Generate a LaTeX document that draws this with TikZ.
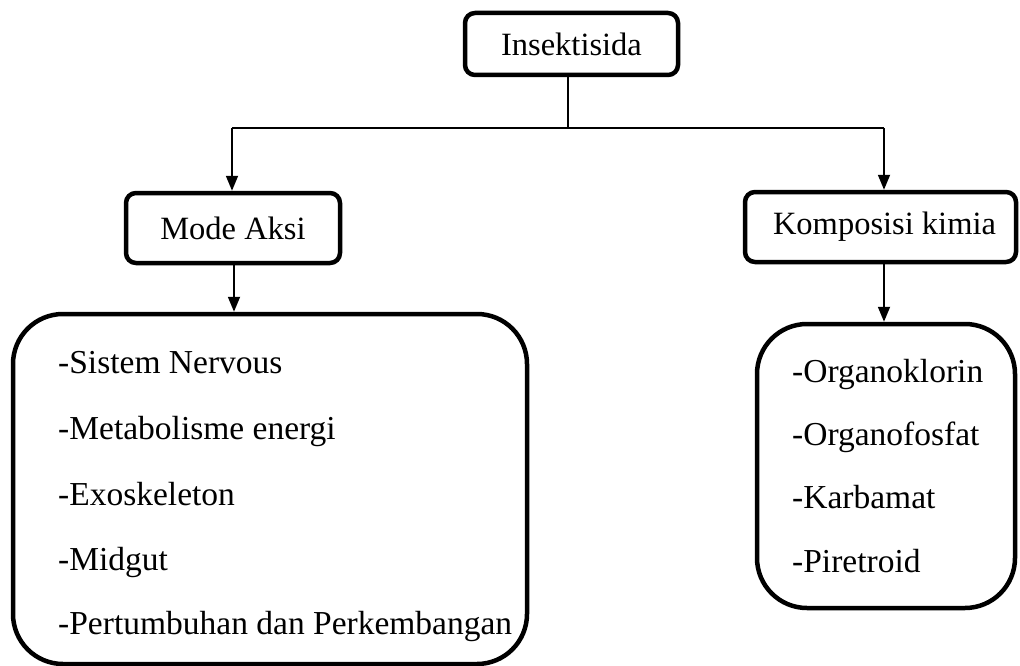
\documentclass[tikz,border=0pt]{standalone}
\usepackage{fontspec}
\setmainfont{Liberation Serif}
\usetikzlibrary{arrows.meta}
\begin{document}
\begin{tikzpicture}[x=1pt,y=-1pt,
  box/.style={draw, line width=4.5pt, rounded corners=10pt, inner sep=0pt, font=\fontsize{32.5}{38}\selectfont},
  bigbox/.style={draw, line width=4.5pt, rounded corners=50pt, inner sep=0pt},
  item/.style={anchor=base west, inner sep=0pt, font=\fontsize{33.5}{40}\selectfont},
  conn/.style={line width=1.8pt},
  arr/.style={line width=1.8pt, -{Triangle[length=15pt,width=12pt]}}]
\useasboundingbox (0,0) rectangle (1020,666);
\node[box, minimum width=213pt, minimum height=62pt] (ins) at (571.5,44) {Insektisida};
\node[box, minimum width=214pt, minimum height=70pt] (mode) at (233,228) {Mode Aksi};
\node[box, minimum width=271pt, minimum height=70pt] (komp) at (880.5,227) {\hspace*{8pt}Komposisi kimia};
\node[bigbox, minimum width=514pt, minimum height=350pt] (left) at (270,489) {};
\node[bigbox, minimum width=258pt, minimum height=284pt] (right) at (886,466) {};
\coordinate (jl) at (232,128);
\coordinate (jr) at (884,128);
\coordinate (jm) at (568,128);
\coordinate (ml) at (234,263);
\coordinate (kr) at (884,262);
\draw[conn] (jm |- ins.south) -- (jm);
\draw[conn] (jl) -- (jr);
\draw[arr] (jl) -- (jl |- mode.north);
\draw[arr] (jr) -- (jr |- komp.north);
\draw[arr] (ml |- mode.south) -- (ml |- left.north);
\draw[arr] (kr |- komp.south) -- (kr |- right.north);
\node[item] (l1) at (58,373) {-Sistem Nervous};
\node[item] (l2) at (58,439) {-Metabolisme energi};
\node[item] (l3) at (58,505) {-Exoskeleton};
\node[item] (l4) at (58,570) {-Midgut};
\node[item] (l5) at (58,634) {-Pertumbuhan dan Perkembangan};
\node[item] (r1) at (792,382) {-Organoklorin};
\node[item] (r2) at (792,445) {-Organofosfat};
\node[item] (r3) at (792,508) {-Karbamat};
\node[item] (r4) at (792,572) {-Piretroid};
\end{tikzpicture}
\end{document}
